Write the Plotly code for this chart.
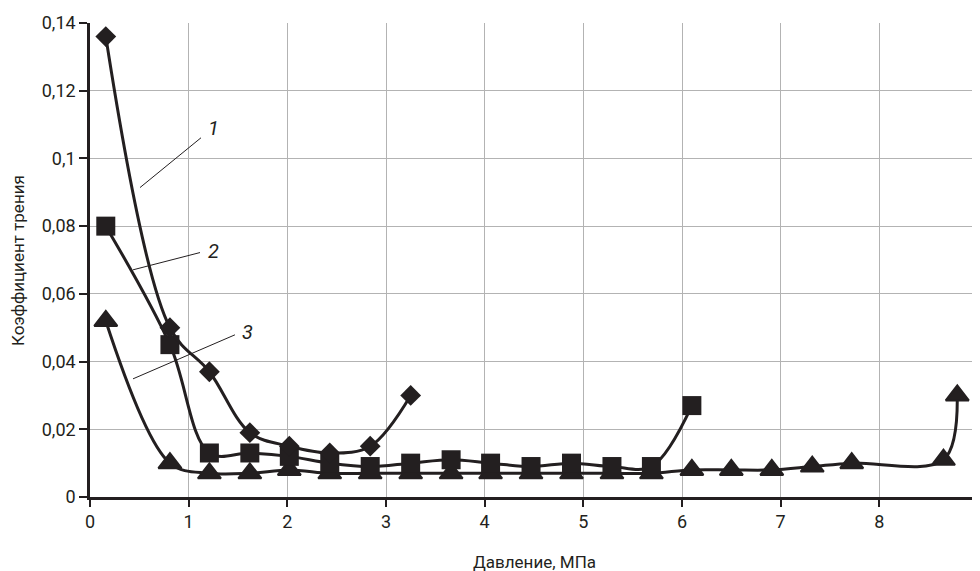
import plotly.graph_objects as go

# Data
x1 = [0.16, 0.81, 1.21, 1.62, 2.02, 2.43, 2.84, 3.25]
y1 = [0.136, 0.050, 0.037, 0.019, 0.015, 0.013, 0.015, 0.030]

x2 = [0.16, 0.81, 1.21, 1.62, 2.02, 2.43, 2.84, 3.25, 3.66, 4.06, 4.47, 4.88, 5.29, 5.69, 6.10]
y2 = [0.080, 0.045, 0.013, 0.013, 0.012, 0.010, 0.009, 0.010, 0.011, 0.010, 0.009, 0.010, 0.009, 0.009, 0.027]

x3 = [0.16, 0.81, 1.21, 1.62, 2.02, 2.43, 2.84, 3.25, 3.66, 4.06, 4.47, 4.88, 5.29, 5.69,
      6.10, 6.50, 6.91, 7.32, 7.72, 8.65, 8.79]
y3 = [0.052, 0.010, 0.007, 0.007, 0.008, 0.007, 0.007, 0.007, 0.007, 0.007, 0.007, 0.007, 0.007, 0.007,
      0.008, 0.008, 0.008, 0.009, 0.010, 0.011, 0.030]

x_ticks = [0, 1, 2, 3, 4, 5, 6, 7, 8, 9]
y_ticks = [0, 0.02, 0.04, 0.06, 0.08, 0.1, 0.12, 0.14]
y_tick_labels = ["0", "0,02", "0,04", "0,06", "0,08", "0,1", "0,12", "0,14"]

labels = ["1", "2", "3"]
# leader lines: (x0, y0, x1, y1) and label positions
leader = [(0.507, 0.0914, 1.125, 0.1061), (0.436, 0.0671, 1.115, 0.0722), (0.436, 0.0349, 1.469, 0.0479)]
label_pos = [(1.25, 0.1090), (1.25, 0.0727), (1.60, 0.0488)]

INK = "#231f20"
FONT = "Roboto, Liberation Sans, sans-serif"

fig = go.Figure()
fig.add_trace(go.Scatter(x=x3, y=y3, mode="lines+markers", line=dict(color=INK, width=3, shape="spline"),
                         marker=dict(symbol="triangle-up", size=20, color=INK, line=dict(color=INK, width=2)),
                         showlegend=False))
fig.add_trace(go.Scatter(x=x2, y=y2, mode="lines+markers", line=dict(color=INK, width=3, shape="spline"),
                         marker=dict(symbol="square", size=19, color=INK), showlegend=False))
fig.add_trace(go.Scatter(x=x1, y=y1, mode="lines+markers", line=dict(color=INK, width=3, shape="spline"),
                         marker=dict(symbol="diamond", size=16, color=INK), showlegend=False))

for (a, b, c, d) in leader:
    fig.add_shape(type="line", x0=a, y0=b, x1=c, y1=d, xref="x", yref="y",
                  line=dict(color=INK, width=1))
for t, (lx, ly) in zip(labels, label_pos):
    fig.add_annotation(x=lx, y=ly, xref="x", yref="y", text="<i>" + t + "</i>", showarrow=False,
                       font=dict(family=FONT, size=20, color=INK))

fig.add_annotation(x=0.5, y=-0.137, xref="paper", yref="paper", text="Давление, МПа", showarrow=False,
                   font=dict(family=FONT, size=17, color=INK), xanchor="center", yanchor="middle")
fig.add_annotation(x=-0.0811, y=0.5, xref="paper", yref="paper", text="Коэффициент трения", showarrow=False,
                   textangle=-90, font=dict(family=FONT, size=17, color=INK), xanchor="center", yanchor="middle")

fig.update_xaxes(range=[0, 9], tickvals=x_ticks, ticktext=[str(v) for v in x_ticks], automargin=False,
                 showgrid=True, gridcolor="#b3b3b3", gridwidth=1, ticklabeloverflow="allow",
                 showline=True, linecolor=INK, linewidth=2.5, ticks="outside", ticklen=7, tickwidth=2,
                 tickcolor=INK, tickfont=dict(family=FONT, size=18, color=INK), zeroline=False)
fig.update_yaxes(range=[0, 0.14], tickvals=y_ticks, ticktext=y_tick_labels, automargin=False,
                 showgrid=True, gridcolor="#b3b3b3", gridwidth=1,
                 showline=True, linecolor=INK, linewidth=2.5, ticks="outside", ticklen=8, tickwidth=2,
                 tickcolor=INK, tickfont=dict(family=FONT, size=18, color=INK), zeroline=False)

# page body has an 8px margin, so the figure is shifted by (8, 8) in the window
fig.update_layout(width=972, height=563, margin=dict(l=82, r=2, t=15, b=74),
                  plot_bgcolor="white", paper_bgcolor="white")

fig.write_html("out.html")
